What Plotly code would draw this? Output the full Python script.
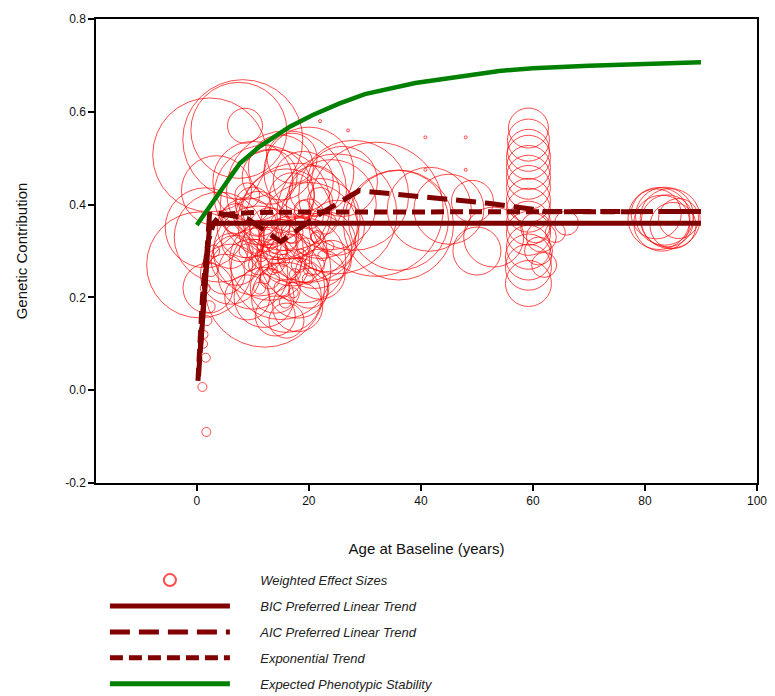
import plotly.graph_objects as go

# ---- Weighted effect sizes (age at baseline, genetic contribution, weight) ----
ages = [
    0.5, 1.5, 2.3, 8.2, 7.5, 8.6, 3.5, 4.0, 6.0, 2.0,
    10, 12, 14, 16, 18, 20, 22, 24, 11, 13, 15, 17, 19, 21, 23, 9, 10, 12, 14, 16,
    18, 12.1, 13, 15, 17, 19, 21, 11, 8, 7, 9, 14, 16, 20, 22, 24, 25, 13, 15, 17,
    10, 12, 14, 16, 18, 20, 22, 11, 13, 15, 17, 19, 21, 23, 9, 7, 6, 5, 26, 20, 18, 16,
    10.5, 11.5, 12.5, 13.5, 14.5, 15.5, 16.5, 17.5, 18.5, 19.5, 9.5, 10.8, 12.2, 13.8, 15.2,
    16.8, 18.2, 19.8, 21.5, 22.5, 8.8, 11.2, 14.2, 17.2, 20.2, 23.5, 12.8, 15.8, 18.8, 21.2,
    28, 25, 32, 36, 41.5, 45, 49.2, 50, 36, 53,
    59.2, 59.2, 59.2, 59.2, 59.2, 59.2, 59.2, 59.2, 59.2, 59.2, 59.2, 59.2, 59.2, 59.2, 59.2,
    61.5, 61, 62, 60.5, 66, 64,
    82.5, 83.5, 83, 84, 82, 85, 86, 84.5,
    1.0, 1.7, 1.1, 1.6, 1.3, 1.8, 2.2, 1.5, 2.5, 3.0,
    40.8, 48, 40.8, 48, 22, 27,
]
effects = [
    0.27, 0.35, 0.507, 0.54, 0.56, 0.57, 0.43, 0.33, 0.25, 0.22,
    0.45, 0.42, 0.40, 0.38, 0.36, 0.34, 0.37, 0.40, 0.30, 0.28, 0.26, 0.30, 0.28, 0.30, 0.32, 0.35, 0.25, 0.20, 0.22, 0.20,
    0.22, 0.222, 0.35, 0.33, 0.42, 0.45, 0.43, 0.38, 0.32, 0.28, 0.20, 0.16, 0.15, 0.22, 0.25, 0.28, 0.35, 0.46, 0.48, 0.50,
    0.40, 0.33, 0.30, 0.27, 0.31, 0.38, 0.41, 0.27, 0.24, 0.36, 0.34, 0.39, 0.27, 0.36, 0.42, 0.37, 0.30, 0.25, 0.45, 0.47, 0.18, 0.43,
    0.31, 0.29, 0.33, 0.26, 0.30, 0.28, 0.32, 0.25, 0.29, 0.31, 0.27, 0.35, 0.24, 0.31, 0.22,
    0.33, 0.27, 0.24, 0.33, 0.29, 0.30, 0.22, 0.27, 0.21, 0.26, 0.31, 0.34, 0.19, 0.37, 0.33,
    0.42, 0.38, 0.39, 0.366, 0.39, 0.39, 0.407, 0.30, 0.356, 0.33,
    0.565, 0.539, 0.517, 0.502, 0.480, 0.459, 0.437, 0.409, 0.388, 0.360, 0.338, 0.308, 0.287, 0.265, 0.230,
    0.33, 0.30, 0.27, 0.35, 0.36, 0.34,
    0.37, 0.375, 0.36, 0.365, 0.38, 0.355, 0.37, 0.37,
    0.007, -0.09, 0.10, 0.07, 0.12, 0.15, 0.18, 0.22, 0.26, 0.30,
    0.545, 0.545, 0.475, 0.475, 0.58, 0.56,
]
weights = [
    106, 80, 114, 120, 96, 35, 70, 90, 60, 50,
    80, 100, 110, 90, 120, 100, 80, 90, 90, 80, 100, 70, 85, 75, 60, 60, 70, 60, 50, 70,
    60, 120, 40, 35, 45, 60, 50, 45, 40, 50, 45, 40, 35, 40, 50, 40, 55, 55, 65, 50,
    35, 30, 25, 30, 25, 30, 25, 20, 20, 20, 22, 18, 20, 22, 25, 30, 35, 40, 70, 90, 50, 120,
    14, 12, 16, 10, 18, 12, 15, 11, 13, 17, 12, 15, 10, 14, 16,
    12, 15, 11, 13, 10, 14, 12, 16, 10, 13, 11, 15, 12, 14, 10,
    110, 120, 134, 100, 84, 70, 42, 48, 110, 60,
    40, 42, 42, 44, 44, 44, 44, 44, 44, 44, 44, 44, 46, 46, 46,
    30, 28, 25, 30, 24, 20,
    62, 58, 56, 52, 50, 46, 40, 60,
    9, 9, 9, 9, 8, 10, 12, 10, 14, 12,
    3, 3, 3, 3, 3, 3,
]

# ---- Trend lines ----
bic_age = [0.6, 2.3, 90]
bic_val = [0.08, 0.36, 0.36]

aic_age = [0.3, 2.3, 9, 12.5, 15, 18.5, 22, 29, 40, 52, 60, 62, 90]
aic_val = [0.03, 0.385, 0.37, 0.34, 0.32, 0.35, 0.38, 0.43, 0.417, 0.403, 0.39, 0.385, 0.385]

exp_age = [0.2, 0.6, 1.0, 1.5, 2.0, 3.0, 4.0, 6.0, 10, 20, 40, 60, 90]
exp_val = [0.02, 0.12, 0.20, 0.27, 0.32, 0.36, 0.375, 0.38, 0.383, 0.384, 0.385, 0.385, 0.385]

stab_age = [0, 3.5, 7.7, 11.2, 16.6, 20.7, 25.5, 30, 39, 54, 60, 70, 80, 90]
stab_val = [0.356, 0.417, 0.489, 0.525, 0.568, 0.593, 0.618, 0.638, 0.662, 0.688, 0.694, 0.699, 0.703, 0.707]

x_ticks = [0, 20, 40, 60, 80, 100]
y_ticks = [-0.2, 0.0, 0.2, 0.4, 0.6, 0.8]

DARK = "#800000"
FONT = "Arial, Liberation Sans, sans-serif"
PAD = "\u00a0" * 7

fig = go.Figure()
fig.add_trace(go.Scatter(
    x=ages, y=effects, mode="markers", name=PAD + "Weighted Effect Sizes",
    marker=dict(symbol="circle-open", size=weights, sizemode="diameter",
                color="#ff0000", line=dict(width=1, color="#ff0000")),
    legendgroup="a",
))
fig.add_trace(go.Scatter(x=bic_age, y=bic_val, mode="lines", name=PAD + "BIC Preferred Linear Trend",
                         line=dict(color=DARK, width=5), legendgroup="b"))
fig.add_trace(go.Scatter(x=aic_age, y=aic_val, mode="lines", name=PAD + "AIC Preferred Linear Trend",
                         line=dict(color=DARK, width=5, dash="20px,9px"), legendgroup="c"))
fig.add_trace(go.Scatter(x=exp_age, y=exp_val, mode="lines", name=PAD + "Exponential Trend",
                         line=dict(color=DARK, width=5, dash="13px,6px"), legendgroup="d"))
fig.add_trace(go.Scatter(x=stab_age, y=stab_val, mode="lines", name=PAD + "Expected Phenotypic Stability",
                         line=dict(color="#008000", width=4.5), legendgroup="e"))

axis_common = dict(showgrid=False, zeroline=False, showline=True, linecolor="black", linewidth=1.5,
                   mirror=True, ticks="outside", ticklen=6, tickwidth=1.5, tickcolor="black",
                   automargin=False,
                   tickfont=dict(family=FONT, size=12, color="#111"))

fig.update_xaxes(range=[-18, 100], tickvals=x_ticks, ticktext=[str(v) for v in x_ticks],
                 title=dict(text="Age at Baseline (years)", font=dict(family=FONT, size=15, color="#111"), standoff=36),
                 **axis_common)
fig.update_yaxes(range=[-0.2, 0.8], tickvals=y_ticks, ticktext=[f"{v:.1f}" for v in y_ticks],
                 title=dict(text="Genetic Contribution", font=dict(family=FONT, size=15, color="#111"), standoff=34),
                 **axis_common)

fig.update_layout(
    width=775, height=696,
    margin=dict(l=96, r=18, t=19, b=213, autoexpand=False),
    plot_bgcolor="white", paper_bgcolor="white",
    font=dict(family=FONT),
    legend=dict(x=0.0135, y=-0.177, xanchor="left", yanchor="top",
                font=dict(family=FONT, size=13, color="#222", style="italic"),
                itemwidth=120, itemsizing="constant", tracegroupgap=6,
                bgcolor="rgba(0,0,0,0)"),
)

fig.write_html("out.html")
